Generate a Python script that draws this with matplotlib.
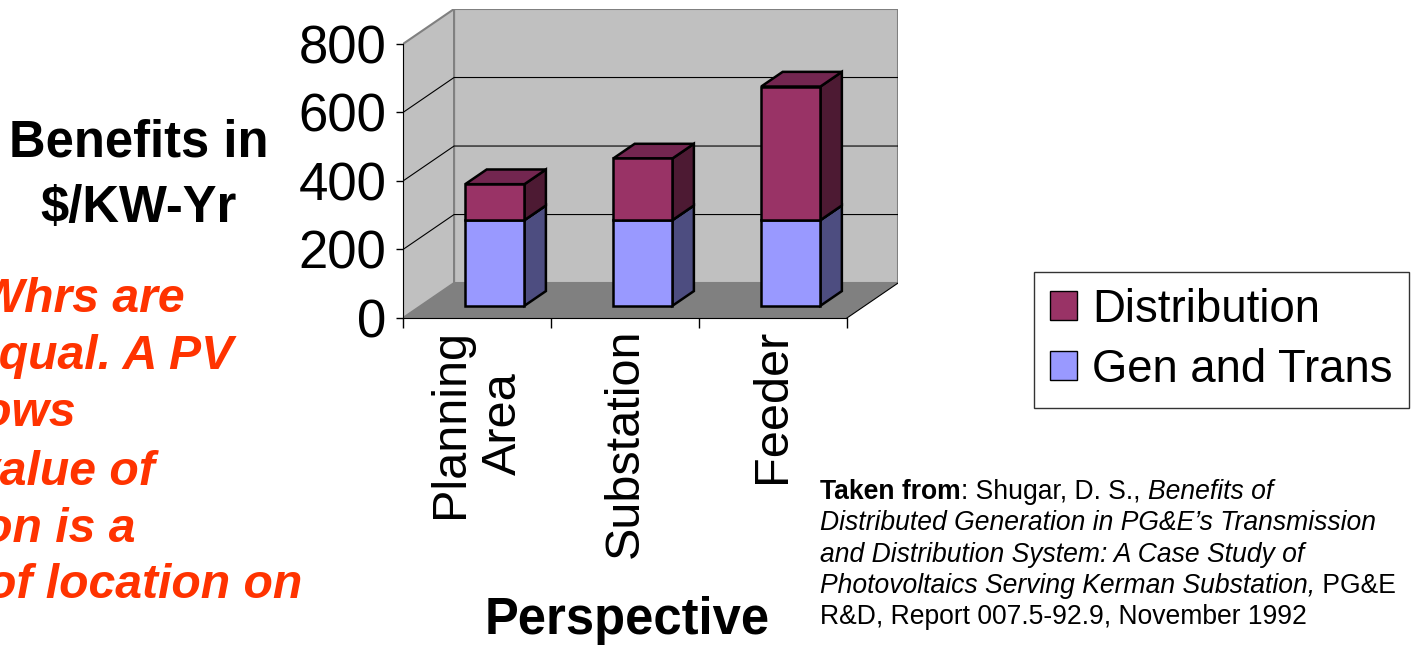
import matplotlib
matplotlib.use("Agg")
import matplotlib.pyplot as plt
from matplotlib.patches import Polygon, Patch
from matplotlib.transforms import offset_copy

plt.rcParams['font.family'] = ['Liberation Sans', 'DejaVu Sans']

# ---------------------------------------------------------
# data
# ---------------------------------------------------------
categories = ['Planning\nArea', 'Substation', 'Feeder']
gen_trans = [250, 250, 250]
distribution = [105, 180, 390]
y_ticks = [0, 200, 400, 600, 800]

series = [
    ('Gen and Trans', gen_trans, '#9999ff', '#4d4d80', '#7373bf'),
    ('Distribution', distribution, '#993366', '#4d1a33', '#732650'),
]

note_lines = ['kWhrs are', 'equal. A PV', 'shows', 'value of',
              'generation is a', 'function of location on']

citation = [
    [('Taken from', 'bold', 'normal'), (': Shugar, D. S., ', 'normal', 'normal'),
     ('Benefits of', 'normal', 'italic')],
    [('Distributed Generation in PG&E\u2019s Transmission', 'normal', 'italic')],
    [('and Distribution System: A Case Study of', 'normal', 'italic')],
    [('Photovoltaics Serving Kerman Substation,', 'normal', 'italic'),
     (' PG&E', 'normal', 'normal')],
    [('R&D, Report 007.5-92.9, November 1992', 'normal', 'normal')],
]

W, H = 1416, 650
fig = plt.figure(figsize=(W / 100, H / 100), dpi=100)


def fx(x):
    return x / W


def fy(y):
    return 1 - y / H


# oblique "3-D" box: depth shift in data units
DX, DY = 0.345, 102
YMAX = 800
n = len(categories)
F0, F1 = 0.35, 0.77    # front / back depth of the bars
BW = 0.4

ax = fig.add_axes([fx(403), fy(318), (n * 148 + 51) / W, (YMAX * 0.3425 + 35) / H])
ax.set_xlim(0, n + DX)
ax.set_ylim(0, YMAX + DY)
ax.patch.set_visible(False)

# walls and floor
ax.add_patch(Polygon([(DX, DY), (n + DX, DY), (n + DX, YMAX + DY), (DX, YMAX + DY)],
                     fc='#c0c0c0', ec='#808080', lw=1.5, zorder=0))
ax.add_patch(Polygon([(0, 0), (DX, DY), (DX, YMAX + DY), (0, YMAX)],
                     fc='#c0c0c0', ec='#808080', lw=1.5, zorder=0))
ax.add_patch(Polygon([(0, 0), (n, 0), (n + DX, DY), (DX, DY)],
                     fc='#808080', ec='none', zorder=1))
ax.plot([n, n + DX], [0, DY], color='black', lw=0.8, zorder=1)

for v in y_ticks[1:-1]:
    ax.plot([0, DX, n + DX], [v, v + DY, v + DY], color='black', lw=0.8, zorder=1)

# stacked bars: front faces via bar(), side and top faces as polygons
bottoms = [0] * n
for name, vals, front, side, top in series:
    xs = [i + 0.5 + DX * F0 for i in range(n)]
    ax.bar(xs, vals, BW, bottom=[b + DY * F0 for b in bottoms], color=front,
           edgecolor='black', lw=1.8, zorder=4, label=name)
    for i in range(n):
        b = bottoms[i]
        t = b + vals[i]
        xl = i + 0.5 - BW / 2
        xr = i + 0.5 + BW / 2
        ax.add_patch(Polygon([(xr + DX * F0, b + DY * F0), (xr + DX * F1, b + DY * F1),
                              (xr + DX * F1, t + DY * F1), (xr + DX * F0, t + DY * F0)],
                             fc=side, ec='black', lw=1.8, zorder=3))
        ax.add_patch(Polygon([(xl + DX * F0, t + DY * F0), (xl + DX * F1, t + DY * F1),
                              (xr + DX * F1, t + DY * F1), (xr + DX * F0, t + DY * F0)],
                             fc=top, ec='black', lw=1.8, zorder=3))
    bottoms = [bottoms[i] + vals[i] for i in range(n)]

for s in ['top', 'right']:
    ax.spines[s].set_visible(False)
ax.spines['left'].set_bounds(0, YMAX)
ax.spines['bottom'].set_bounds(0, n)
ax.spines['left'].set_zorder(5)
ax.spines['bottom'].set_zorder(5)
ax.set_yticks(y_ticks)
ax.set_yticklabels([str(v) for v in y_ticks], fontsize=38)
ax.set_xticks(range(n + 1))
ax.set_xticklabels([''] * (n + 1))
ax.tick_params(axis='y', length=5, width=1, pad=7)
ax.tick_params(axis='x', length=7, width=1)

lab_tr = offset_copy(ax.transData, fig=fig, y=-11, units='dots')
for i, cat in enumerate(categories):
    ax.text(i + 0.5, 0, cat, rotation=90, ha='center', va='top',
            multialignment='center', fontsize=35, transform=lab_tr)

# axis titles
fig.text(fx(139), fy(157), 'Benefits in', ha='center', va='baseline',
         fontsize=36.5, weight='bold')
fig.text(fx(139), fy(222), '$/KW-Yr', ha='center', va='baseline',
         fontsize=36.5, weight='bold')
fig.text(fx(627), fy(634), 'Perspective', ha='center', va='baseline',
         fontsize=36.5, weight='bold')

# red side note (runs off the left edge)
note_right = [185, 233, 76, 155, 136, 302]
note_base = [312, 369, 426, 485, 542, 598]
for txt, xr, yb in zip(note_lines, note_right, note_base):
    fig.text(fx(xr), fy(yb), txt, ha='right', va='baseline', fontsize=34.7,
             weight='bold', style='italic', color='#ff3300')

# legend
handles = [Patch(fc='#993366', ec='black', label='Distribution'),
           Patch(fc='#9999ff', ec='black', label='Gen and Trans')]
leg = fig.legend(handles=handles, loc='upper left', bbox_to_anchor=(fx(1034), fy(272)),
                 fontsize=32.8, frameon=True, fancybox=False, edgecolor='black',
                 handlelength=0.6, handleheight=0.6, borderaxespad=0, borderpad=0.35,
                 labelspacing=0.35, handletextpad=0.33)
leg.get_frame().set_linewidth(1)

# citation, mixed styles laid out piece by piece
fig.canvas.draw()
renderer = fig.canvas.get_renderer()
cit_base = [499, 530, 562, 593, 624]
for line, yb in zip(citation, cit_base):
    x = fx(820)
    for txt, wt, st in line:
        t = fig.text(x, fy(yb), txt, ha='left', va='baseline', fontsize=19.1,
                     weight=wt, style=st)
        bb = t.get_window_extent(renderer)
        x = bb.x1 / W

fig.savefig('out.png', dpi=100)
